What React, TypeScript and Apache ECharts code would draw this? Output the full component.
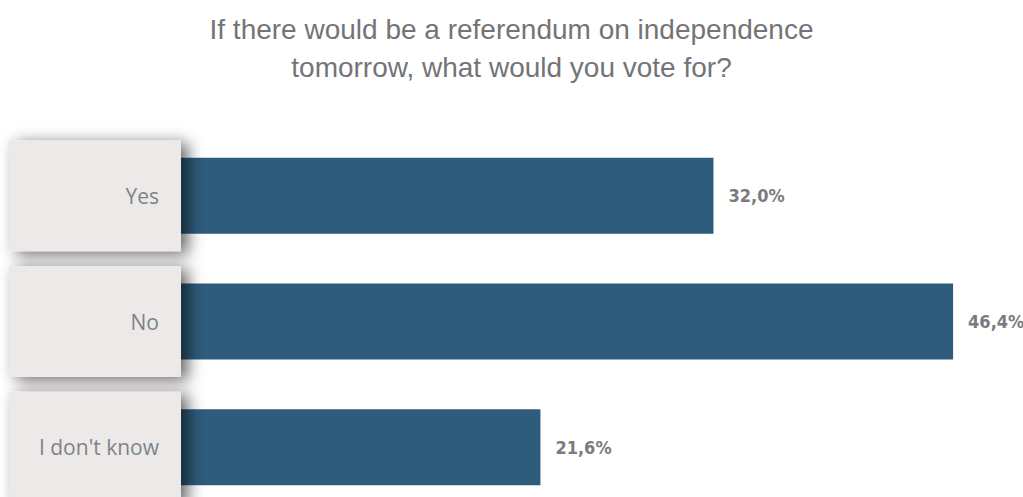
import React, { useEffect, useRef } from "react";
import * as echarts from "echarts";

const categories = ["Yes", "No", "I don't know"];
const values = [32.0, 46.4, 21.6];
const titleText = "If there would be a referendum on independence\ntomorrow, what would you vote for?";

export default function App() {
  const ref = useRef<HTMLDivElement>(null);
  useEffect(() => {
    document.body.style.margin = "0";
    document.body.style.overflow = "hidden";
    const chart = echarts.init(ref.current!, null, { renderer: "svg" });
    chart.setOption({
      animation: false,
      backgroundColor: "#ffffff",
      title: {
        text: titleText,
        left: "center",
        top: 5,
        textStyle: {
          fontFamily: "Liberation Sans, Arial, sans-serif",
          fontSize: 28,
          fontWeight: "normal",
          color: "#737478",
          lineHeight: 38,
        },
      },
      grid: { left: 181, right: 10, top: 133, height: 377, containLabel: false },
      xAxis: {
        type: "value",
        min: 0,
        max: 50,
        show: false,
      },
      yAxis: {
        type: "category",
        data: categories,
        inverse: true,
        z: 10,
        axisLine: { show: false },
        axisTick: { show: false },
        splitLine: { show: false },
        axisLabel: {
          margin: 0,
          align: "right",
          verticalAlign: "middle",
          fontFamily: "Open Sans, sans-serif",
          fontSize: 21,
          color: "#7D8489",
          backgroundColor: "#ECE9E8",
          width: 150,
          height: 104,
          lineHeight: 104,
          padding: [7, 22, 0, 0],
          shadowColor: "rgba(0,0,0,0.6)",
          shadowBlur: 16,
          shadowOffsetX: 7,
          shadowOffsetY: 3,
        },
      },
      series: [
        {
          type: "bar",
          data: values,
          barWidth: 76,
          itemStyle: { color: "#2E5C7C" },
          label: {
            show: true,
            position: "right",
            distance: 15,
            fontFamily: "DejaVu Sans Condensed, DejaVu Sans, sans-serif",
            fontWeight: "bold",
            fontSize: 18,
            color: "#7B7B7D",
            formatter: (p: any) => p.value.toFixed(1).replace(".", ",") + "%",
          },
        },
      ],
    });
    return () => chart.dispose();
  }, []);
  return (
    <div
      ref={ref}
      style={{ position: "absolute", left: 0, top: 0, width: 1023, height: 520 }}
    />
  );
}
